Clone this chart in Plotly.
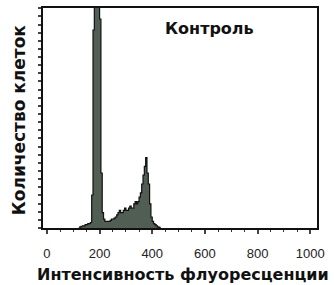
import plotly.graph_objects as go

# histogram bins (channel left edges) and cell counts (% of axis height)
channels = [120, 125, 130, 135, 140, 145, 150, 155, 160, 165, 170, 175, 180, 185, 190, 195, 200, 205,
            210, 215, 220, 225, 230, 235, 240, 245, 250, 255, 260, 265, 270, 275, 280, 285, 290,
            295, 300, 305, 310, 315, 320, 325, 330, 335, 340, 345, 350, 355, 360, 365, 370, 375,
            380, 385, 390, 395, 400, 405, 410, 415, 420, 425, 430]
counts = [0, 0.5, 0.8, 1, 1, 1.5, 1.5, 2, 2, 2.5, 15, 90, 110, 112, 110, 108, 95, 25,
          7, 4, 3, 3, 3, 3, 3.5, 4, 4, 4.5, 5, 6, 7, 8, 7, 7, 8,
          9, 8, 8, 9, 10, 9, 9, 11, 12, 11, 12, 14, 16, 20, 24, 28, 32,
          25, 20, 11, 5, 3, 2, 1.5, 1, 0.5, 0.3, 0]

x_ticks = [0, 200, 400, 600, 800, 1000]
title_text = "Контроль"
x_title = "Интенсивность флуоресценции"
y_title = "Количество клеток"

bold_font = "DejaVu Sans, Liberation Sans, Arial, sans-serif"

fig = go.Figure()
fig.add_trace(go.Scatter(
    x=channels, y=counts, mode="lines", line=dict(shape="hv", color="#111111", width=1.2),
    fill="tozeroy", fillcolor="#505e54", hoverinfo="skip", showlegend=False))

fig.update_layout(
    width=334, height=285,
    margin=dict(l=43, r=17, t=8, b=57),
    plot_bgcolor="white", paper_bgcolor="white",
    font=dict(family="Liberation Sans, Arial, sans-serif", color="#111111"),
    xaxis=dict(range=[-15, 1026], tickvals=x_ticks, ticks="outside", ticklen=4, tickwidth=2,
               showline=True, linecolor="#111111", linewidth=2, mirror=True, showgrid=False,
               zeroline=False, tickfont=dict(size=13, color="#222222"), automargin=False,
               ticklabelstandoff=8,
               minor=dict(dtick=50, ticks="outside", ticklen=2, tickwidth=1, tickcolor="#333333")),
    yaxis=dict(range=[0, 100], dtick=3.7, tick0=0, ticks="outside", ticklen=3, tickwidth=2,
               showticklabels=False, showline=True, linecolor="#111111", linewidth=2,
               mirror=True, showgrid=False, zeroline=False, automargin=False),
    annotations=[
        dict(text="<b>" + title_text + "</b>", xref="paper", yref="paper", x=0.438, y=0.909,
             xanchor="left", yanchor="middle", showarrow=False,
             font=dict(size=16, family=bold_font)),
        dict(text="<b>" + x_title + "</b>", xref="paper", yref="paper", x=-0.029, y=-0.2136,
             xanchor="left", yanchor="middle", showarrow=False,
             font=dict(size=16, family=bold_font)),
        dict(text="<b>" + y_title + "</b>", xref="paper", yref="paper", x=-0.087, y=0.491,
             xanchor="center", yanchor="middle", textangle=-90, showarrow=False,
             font=dict(size=17, family=bold_font)),
    ],
)

fig.write_html("out.html", config={"displayModeBar": False},
               post_script="document.body.style.margin='0px';document.body.style.overflow='hidden';")
